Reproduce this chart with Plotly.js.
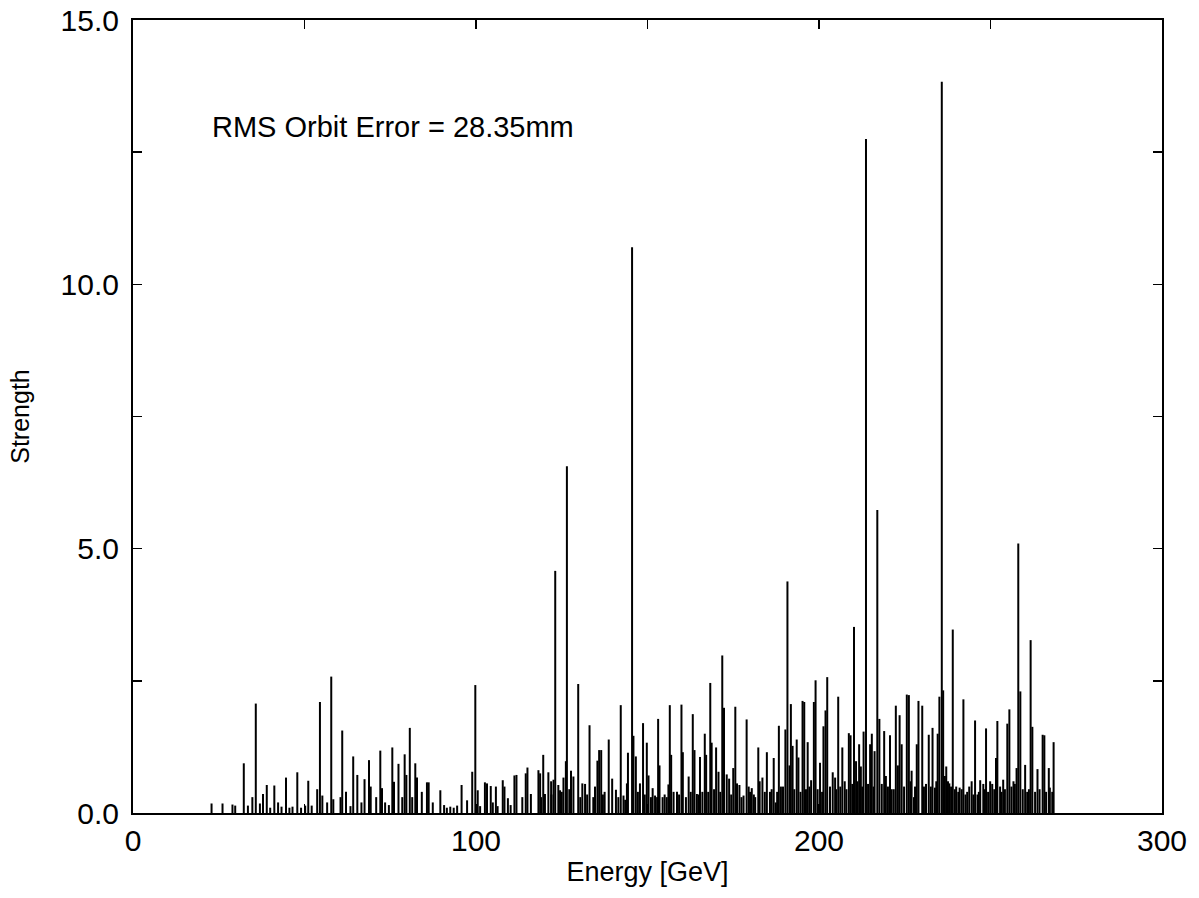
<!DOCTYPE html>
<html>
<head>
<meta charset="utf-8">
<script src="https://cdn.plot.ly/plotly-3.0.1.min.js"></script>
<style>html,body{margin:0;padding:0;background:#fff;}#chart{width:1199px;height:898px;}</style>
</head>
<body>
<div id="chart"></div>
<script>
// Resonance energies [GeV]
const energy = [
22.9,26.1,29.0,29.8,32.3,33.5,34.8,35.8,37.0,37.9,39.0,40.0,41.2,42.3,43.3,44.6,45.6,46.5,47.9,49.0,
50.2,51.1,52.1,53.7,54.5,55.2,56.6,57.8,58.4,60.5,61.0,62.1,63.4,64.2,65.4,66.6,67.5,68.8,69.3,70.9,
72.1,72.6,73.5,74.6,75.6,76.1,77.4,78.5,79.2,79.7,80.7,81.4,82.3,82.8,84.2,85.7,86.2,87.4,89.6,90.7,
91.5,92.5,93.5,94.5,95.8,97.4,98.9,99.8,100.5,101.2,102.6,103.2,104.3,104.9,105.8,106.3,107.8,108.3,109.3,110.1,
111.2,111.8,113.5,114.5,115.0,116.0,118.2,118.7,119.6,120.1,121.1,121.9,122.6,123.1,124.0,124.5,125.5,126.2,126.5,127.7,
128.4,129.8,131.0,131.8,133.1,134.7,135.4,135.9,136.5,137.5,138.7,139.7,140.8,142.2,143.0,144.0,144.3,145.5,145.9,146.6,
147.8,148.7,149.8,150.3,151.5,152.2,153.1,153.5,154.4,156.1,156.5,156.9,158.6,159.9,160.3,162.0,163.2,163.7,164.4,165.3,
166.0,166.7,167.1,168.3,168.7,170.0,170.7,171.8,172.3,173.1,173.8,175.0,175.6,176.1,176.8,178.0,178.9,179.5,180.4,181.4,
182.3,182.7,183.5,184.8,185.7,186.8,187.4,188.3,188.9,190.2,190.8,191.4,191.8,192.3,193.5,194.0,195.2,195.7,196.7,197.7,
198.5,199.0,200.3,201.3,201.9,202.4,204.0,204.7,205.6,206.8,207.5,208.7,209.2,210.2,210.8,211.7,212.2,213.0,213.7,214.9,
215.4,216.2,217.0,217.6,219.0,219.5,220.7,221.2,222.4,223.0,223.5,224.1,225.6,226.2,227.0,227.7,228.5,229.0,230.1,230.6,
232.0,233.1,233.8,234.6,235.1,235.8,236.2,237.1,238.0,239.0,240.0,241.0,242.1,242.7,243.8,244.5,245.5,246.2,247.0,247.9,
248.7,249.9,250.5,251.6,252.0,252.8,253.7,254.9,255.5,256.7,257.6,258.1,258.7,260.1,261.7,262.2,263.7,265.2,265.7,267.0,
267.3,268.4,
// low-level background lines
119.0,122.0,125.0,127.2,130.4,132.4,134.2,137.0,141.5,143.5,147.2,149.2,151.0,152.8,155.0,155.6,157.6,159.2,161.2,162.6,
164.9,167.7,169.4,171.2,174.4,177.4,179.9,181.0,184.2,186.2,187.8,189.5,192.8,194.6,196.2,197.2,199.6,200.9,203.2,205.0,
206.2,208.0,209.7,211.2,212.6,214.3,215.9,218.3,220.1,221.8,224.8,226.7,228.0,231.2,232.6,234.2,236.7,237.6,238.5,239.6,
240.6,241.6,243.2,245.0,246.6,248.3,249.3,251.1,253.2,254.2,256.1,257.1,259.4,260.7,261.2,263.0,264.3,266.2,268.0
];
// Resonance strengths
const strength = [
0.18,0.18,0.16,0.14,0.94,0.14,0.30,2.07,0.18,0.36,0.53,0.10,0.52,0.20,0.12,0.67,0.10,0.12,0.77,0.10,
0.14,0.61,0.14,0.45,2.10,0.33,0.20,2.58,0.26,0.30,1.56,0.40,0.13,1.07,0.72,0.20,0.64,1.00,0.50,0.30,
1.18,0.47,0.20,0.15,1.24,0.59,0.93,0.30,1.11,0.72,1.61,0.30,0.94,0.67,0.40,0.58,0.58,0.20,0.43,0.15,
0.10,0.12,0.10,0.14,0.53,0.24,0.78,2.42,0.43,0.13,0.58,0.56,0.51,0.20,0.50,0.13,0.62,0.50,0.28,0.15,
0.71,0.72,0.30,0.75,0.86,0.36,0.81,0.75,1.10,0.36,0.77,0.60,0.63,4.58,0.53,0.43,0.67,0.98,6.56,0.80,
0.69,2.44,0.56,0.55,1.66,0.50,0.99,1.19,1.19,0.40,1.39,0.65,0.44,2.04,0.33,0.56,1.14,10.7,1.46,1.07,
0.56,1.70,1.33,0.71,0.47,0.33,1.78,0.90,0.30,0.54,2.04,1.10,0.40,2.05,1.15,0.69,1.87,1.19,0.36,1.06,
0.40,1.50,1.10,2.46,1.33,1.24,0.78,2.98,1.99,0.73,0.65,0.85,2.01,0.56,0.53,0.33,1.77,0.50,0.47,0.30,
1.24,0.60,0.67,1.15,0.40,1.04,0.20,1.65,0.50,1.58,4.38,0.90,2.06,1.27,1.39,1.05,2.12,2.10,1.34,0.62,
2.10,2.51,0.95,1.64,1.94,2.57,0.77,0.67,2.20,1.24,0.60,1.51,1.47,3.52,0.98,1.30,0.88,1.54,12.75,1.30,
1.50,1.17,5.73,1.78,1.55,0.70,1.47,0.45,2.03,0.90,1.85,1.30,2.24,2.23,0.80,0.30,1.30,2.12,2.03,0.50,
1.48,1.61,0.48,1.50,2.20,13.83,2.32,0.88,0.56,3.47,0.50,0.48,2.15,0.35,0.50,0.60,1.75,0.35,0.62,0.55,
1.60,0.60,0.55,1.04,1.74,0.50,0.63,1.69,1.96,0.60,0.85,5.10,2.30,0.91,3.27,1.63,0.83,1.48,1.47,0.85,
0.48,1.34,
0.30,0.35,0.40,0.45,0.30,0.35,0.30,0.35,0.30,0.25,0.40,0.35,0.30,0.30,0.35,0.30,0.40,0.35,0.30,0.40,
0.35,0.40,0.45,0.40,0.35,0.30,0.40,0.35,0.40,0.45,0.40,0.50,0.45,0.40,0.45,0.50,0.45,0.40,0.50,0.45,
0.50,0.45,0.55,0.60,0.50,0.55,0.50,0.55,0.50,0.45,0.50,0.60,0.50,0.55,0.50,0.60,0.70,0.60,0.50,0.45,
0.40,0.45,0.40,0.35,0.40,0.45,0.40,0.45,0.40,0.45,0.50,0.55,0.45,0.40,0.45,0.40,0.45,0.40,0.40
];
const xTickVals = [0, 100, 200, 300];
const xTickText = ["0", "100", "200", "300"];
const yTickVals = [0, 5, 10, 15];
const yTickText = ["0.0", "5.0", "10.0", "15.0"];
const noteText = "RMS Orbit Error = 28.35mm";

const xs = [], ys = [];
for (let i = 0; i < energy.length; i++) {
  xs.push(energy[i], energy[i], null);
  ys.push(0, strength[i], null);
}

const font = "Liberation Sans, Arial, Helvetica, sans-serif";
const trace = {
  type: "scatter", mode: "lines", x: xs, y: ys,
  line: {color: "#000", width: 2}, hoverinfo: "skip", connectgaps: false
};

const axisCommon = {
  showgrid: false, zeroline: false, showline: true, linecolor: "#000", linewidth: 2,
  ticks: "inside", ticklen: 9, tickwidth: 1.5, tickcolor: "#000", mirror: "allticks",
  tickfont: {family: font, size: 30, color: "#000"}
};

const layout = {
  width: 1199, height: 898,
  margin: {l: 133, r: 37, t: 20, b: 85},
  paper_bgcolor: "#fff", plot_bgcolor: "#fff",
  showlegend: false,
  font: {family: font, color: "#000"},
  xaxis: Object.assign({}, axisCommon, {
    range: [0, 300], tickmode: "array", tickvals: xTickVals, ticktext: xTickText,
    minor: {dtick: 50, tick0: 0, ticks: "inside", ticklen: 9, tickwidth: 1.5, tickcolor: "#000", showgrid: false},
    title: {text: "Energy [GeV]", font: {family: font, size: 27, color: "#000"}, standoff: 6}
  }),
  yaxis: Object.assign({}, axisCommon, {
    range: [0, 15], tickmode: "array", tickvals: yTickVals, ticktext: yTickText,
    ticklabelstandoff: 6,
    minor: {dtick: 2.5, tick0: 0, ticks: "inside", ticklen: 9, tickwidth: 1.5, tickcolor: "#000", showgrid: false},
    title: {text: "Strength", font: {family: font, size: 25, color: "#000"}, standoff: 24}
  }),
  annotations: [{
    text: noteText, x: 22.4, y: 12.97, xref: "x", yref: "y",
    xanchor: "left", yanchor: "middle", showarrow: false,
    font: {family: font, size: 29, color: "#000"}
  }]
};

Plotly.newPlot("chart", [trace], layout, {staticPlot: true, displayModeBar: false});
</script>
</body>
</html>
